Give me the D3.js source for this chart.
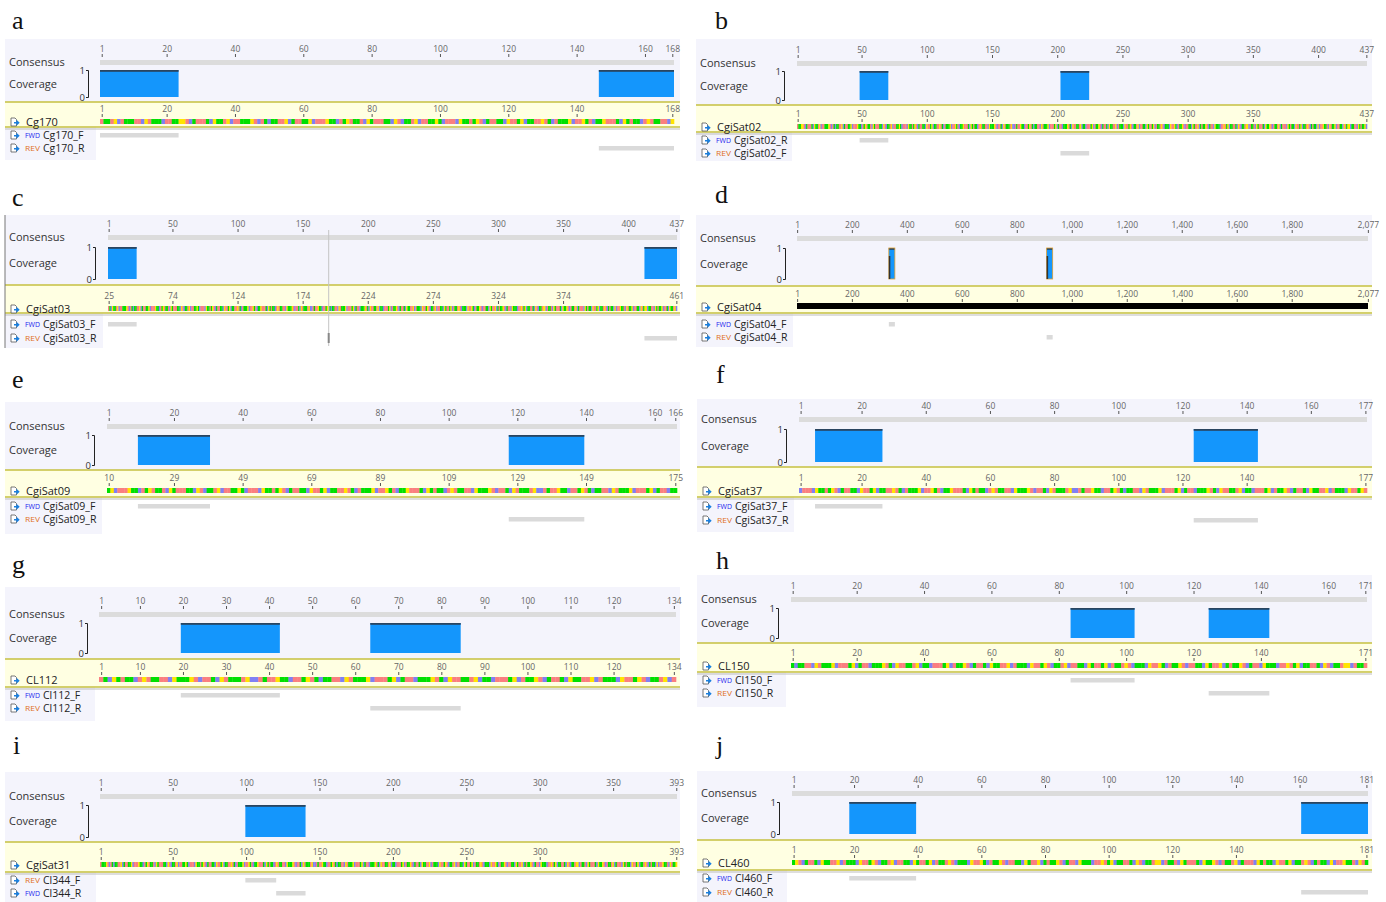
<html><head>
<script src="https://d3js.org/d3.v7.min.js"></script>
<style>
  body { margin: 0; background: #fff; }
  text { font-family: "Open Sans", "Noto Sans", sans-serif; }
</style>
</head>
<body>
<script>

  // ---- data ----
  const panelLetters = ["a","b","c","d","e","f","g","h","i","j"];
  const seqNames = ["Cg170","CgiSat02","CgiSat03","CgiSat04","CgiSat09","CgiSat37","CL112","CL150","CgiSat31","CL460"];
  const seqLengths = [168, 437, 437, 2077, 166, 177, 134, 171, 393, 181];
  const seqLabelOffset = [0, 0, 24, 0, 9, 0, 0, 0, 0, 0];

  const topTicks = [
    [1,20,40,60,80,100,120,140,160,168],
    [1,50,100,150,200,250,300,350,400,437],
    [1,50,100,150,200,250,300,350,400,437],
    [1,200,400,600,800,1000,1200,1400,1600,1800,2077],
    [1,20,40,60,80,100,120,140,160,166],
    [1,20,40,60,80,100,120,140,160,177],
    [1,10,20,30,40,50,60,70,80,90,100,110,120,134],
    [1,20,40,60,80,100,120,140,160,171],
    [1,50,100,150,200,250,300,350,393],
    [1,20,40,60,80,100,120,140,160,181]
  ];
  const seqTicks = [
    [1,20,40,60,80,100,120,140,168],
    [1,50,100,150,200,250,300,350,437],
    [1,50,100,150,200,250,300,350,437],
    [1,200,400,600,800,1000,1200,1400,1600,1800,2077],
    [1,20,40,60,80,100,120,140,166],
    [1,20,40,60,80,100,120,140,177],
    [1,10,20,30,40,50,60,70,80,90,100,110,120,134],
    [1,20,40,60,80,100,120,140,171],
    [1,50,100,150,200,250,300,393],
    [1,20,40,60,80,100,120,140,181]
  ];

  const readDirs = [
    ["FWD","REV"],["FWD","REV"],["FWD","REV"],["FWD","REV"],["FWD","REV"],
    ["FWD","REV"],["FWD","REV"],["FWD","REV"],["REV","FWD"],["FWD","REV"]
  ];
  const readNames = [
    ["Cg170_F","Cg170_R"],
    ["CgiSat02_R","CgiSat02_F"],
    ["CgiSat03_F","CgiSat03_R"],
    ["CgiSat04_F","CgiSat04_R"],
    ["CgiSat09_F","CgiSat09_R"],
    ["CgiSat37_F","CgiSat37_R"],
    ["Cl112_F","Cl112_R"],
    ["Cl150_F","Cl150_R"],
    ["Cl344_F","Cl344_R"],
    ["Cl460_F","Cl460_R"]
  ];
  // [first base, last base] of each primer read
  const readSpans = [
    [[1,23],[147,168]],
    [[49,70],[203,224]],
    [[1,22],[413,437]],
    [[335,356],[909,930]],
    [[10,30],[118,139]],
    [[6,26],[124,143]],
    [[20,42],[64,84]],
    [[84,102],[125,142]],
    [[100,120],[121,140]],
    [[19,39],[161,181]]
  ];
  const coverageDepth = 1;
  const cursorBase = [null, null, 170, null, null, null, null, null, null, null];

  // bases shown in the colour track (approximate, hand typed)
  const seqBases = [
    "ATTAGCATTTAACGATTTCAATTGGACTAAATCGTTAGCAATTTGACATCTTAAGCTAAT",
    "TGCAAAGTTCATGATTACGTAAATTCGACTTAGCAATTGTCAAACGTTATGACTAATTCG",
    "AATGCTTAAGATCATTTGCAAGTACTTGAAATCGTATTCAGATTAACGTTTGACAATCGA",
    "TTTAGCCATAAGTTCAATGATCTTAACGATTTGCAAATGCTAACTTTGATCGAATTAGCT",
    "TCAAATGCATTGACTAATCGTTAAGCATTTCGAATGACTTAGCAATTCGTAATGCATTAG",
    "ACTTTCGAAGTCATTGACAATTCGTAAGCTATTGACTAACGTTTCAAGATGCTTAATCGA",
    "CTTAGGCATTACGTAAATCGTTGACATTAGCTAAACGTATTCGAATGCTTAGACTATTCG",
    "CAAGTTACGATTGCAATTCGATGGCTTAACGTATTGCAATCGTTAGCATTGACATTTCGA"
  ].join("");
  const seqStart = [0, 20, 30, 0, 60, 100, 150, 200, 40, 250];

  // ---- layout (pixel positions of each panel) ----
  const layout = [
    {x:5,   r:680,  col:96,  x0:100, x1:674,  top:39,  cons:60,  covT:70,  covB:97,  yel:102, seq:119, yelB:127, r1:133, r2:146, bot:160, lx:12,  ly:29},
    {x:696, r:1372, col:792, x0:797, x1:1367, top:39,  cons:61,  covT:71,  covB:100, yel:105, seq:124, yelB:132, r1:138, r2:151, bot:161, lx:715, ly:29},
    {x:5,   r:680,  col:103, x0:108, x1:677,  top:215, cons:235, covT:247, covB:279, yel:285, seq:306, yelB:313, r1:322, r2:336, bot:348, lx:12,  ly:206},
    {x:696, r:1372, col:793, x0:797, x1:1368, top:215, cons:236, covT:248, covB:279, yel:286, seq:304, yelB:313, r1:322, r2:335, bot:347, lx:715, ly:203},
    {x:5,   r:680,  col:102, x0:107, x1:677,  top:402, cons:424, covT:435, covB:465, yel:470, seq:488, yelB:497, r1:504, r2:517, bot:534, lx:12,  ly:388},
    {x:697, r:1372, col:794, x0:799, x1:1367, top:399, cons:417, covT:429, covB:462, yel:467, seq:488, yelB:497, r1:504, r2:518, bot:532, lx:716, ly:383},
    {x:5,   r:680,  col:95,  x0:99,  x1:676,  top:587, cons:612, covT:623, covB:653, yel:659, seq:677, yelB:687, r1:693, r2:706, bot:721, lx:12,  ly:573},
    {x:697, r:1372, col:786, x0:791, x1:1367, top:575, cons:597, covT:608, covB:638, yel:643, seq:663, yelB:672, r1:678, r2:691, bot:707, lx:716, ly:569},
    {x:5,   r:680,  col:96,  x0:100, x1:677,  top:772, cons:794, covT:805, covB:837, yel:842, seq:862, yelB:872, r1:878, r2:891, bot:902, lx:13,  ly:754},
    {x:697, r:1372, col:787, x0:792, x1:1368, top:771, cons:791, covT:802, covB:834, yel:840, seq:860, yelB:870, r1:876, r2:890, bot:902, lx:716, ly:754}
  ];

  const baseColor = {A:"#fa7f7f", C:"#8080f4", G:"#ffe400", T:"#00e000"};
  const dirColor = {FWD:"#2424ee", REV:"#e0701a"};
  const panelBg = "#f4f4fc";
  const fmt = d3.format(",");

  let svg = d3.select("body").append("svg").attr("width", 1386).attr("height", 902);

  function docIcon(g, x, y) {
    g.append("path").attr("d", `M${x},${y-4}h4l1.5,1.5v6.5h-5.5z`)
      .attr("fill", "#fff").attr("stroke", "#555").attr("stroke-width", 0.8);
    g.append("path").attr("d", `M${x+3},${y}h2.5v-2.2l3.2,3l-3.2,3v-2.2h-2.5z`).attr("fill", "#1a80e0");
  }

  function styleAxis(a) {
    a.select(".domain").remove();
    a.selectAll("line").attr("stroke", "#555");
    a.selectAll("text").attr("fill", "#666").style("font-size", "8.5px");
  }

  // reads that touch each other make one coverage block
  function mergeSpans(spans) {
    let out = [];
    spans.slice().sort((u, v) => u[0] - v[0]).forEach(s => {
      let last = out[out.length - 1];
      if (last && s[0] <= last[1] + 1) last[1] = Math.max(last[1], s[1]);
      else out.push([s[0], s[1]]);
    });
    return out;
  }

  layout.forEach((L, p) => {
    let g = svg.append("g");
    let len = seqLengths[p];
    let xs = d3.scaleLinear().domain([0.5, len + 0.5]).range([L.x0, L.x1]);
    let ys = d3.scaleLinear().domain([0, coverageDepth]).range([L.covB, L.covT]);

    // letter
    svg.append("text").attr("x", L.lx).attr("y", L.ly).text(panelLetters[p])
      .style("font-family", "'Liberation Serif', 'Times New Roman', serif").style("font-size", "26px").attr("fill", "#111");

    // backgrounds
    g.append("rect").attr("x", L.x).attr("y", L.top).attr("width", L.r - L.x).attr("height", L.yel - L.top).attr("fill", panelBg);
    g.append("rect").attr("x", L.x).attr("y", L.yelB).attr("width", L.col - L.x).attr("height", L.bot - L.yelB).attr("fill", panelBg);
    g.append("rect").attr("x", L.x).attr("y", L.yel).attr("width", L.r - L.x).attr("height", L.yelB - L.yel).attr("fill", "#ffffe2");
    g.append("line").attr("x1", L.x).attr("x2", L.r).attr("y1", L.yel).attr("y2", L.yel).attr("stroke", "#c6c040").attr("stroke-width", 1.5);
    g.append("line").attr("x1", L.x).attr("x2", L.r).attr("y1", L.yelB).attr("y2", L.yelB).attr("stroke", "#c6c040").attr("stroke-width", 1.5);
    g.append("line").attr("x1", L.x).attr("x2", L.r).attr("y1", L.yelB + 2).attr("y2", L.yelB + 2).attr("stroke", "#bdbdbd").attr("stroke-width", 1);
    if (p === 2) {
      g.append("line").attr("x1", L.x).attr("x2", L.x).attr("y1", L.top).attr("y2", L.bot).attr("stroke", "#777");
    }

    // top ruler
    let topAxis = g.append("g").attr("transform", `translate(0,${L.cons - 3})`)
      .call(d3.axisTop(xs).tickValues(topTicks[p]).tickFormat(fmt).tickSize(3).tickPadding(2));
    styleAxis(topAxis);

    // consensus
    g.append("rect").attr("x", xs(0.5)).attr("y", L.cons).attr("width", xs(len + 0.5) - xs(0.5)).attr("height", 5).attr("fill", "#dcdcdc");
    g.append("text").attr("x", L.x + 4).attr("y", L.cons + 6).text("Consensus").attr("fill", "#333").style("font-size", "11px");
    g.append("text").attr("x", L.x + 4).attr("y", (L.covT + L.covB) / 2 + 4).text("Coverage").attr("fill", "#333").style("font-size", "11px");

    // coverage axis
    let covAxis = g.append("g").attr("transform", `translate(${L.col - 8},0)`)
      .call(d3.axisLeft(ys).tickValues([0, coverageDepth]).tickFormat(d3.format("d")).tickSize(2).tickSizeOuter(2).tickPadding(1));
    covAxis.select(".domain").attr("stroke", "#222");
    covAxis.selectAll("line").attr("stroke", "#222");
    covAxis.selectAll("text").attr("fill", "#333").style("font-size", "9.5px");

    // coverage blocks
    mergeSpans(readSpans[p]).forEach(s => {
      let x1 = xs(s[0] - 0.5), w = xs(s[1] + 0.5) - x1;
      g.append("rect").attr("x", x1).attr("y", ys(coverageDepth)).attr("width", w).attr("height", ys(0) - ys(coverageDepth))
        .attr("fill", "#1496fc");
      g.append("rect").attr("x", x1).attr("y", ys(coverageDepth)).attr("width", w).attr("height", 1.8).attr("fill", "#2a4560");
      if (len > 1000) {
        g.append("rect").attr("x", x1).attr("y", ys(coverageDepth)).attr("width", w).attr("height", ys(0) - ys(coverageDepth))
          .attr("fill", "none").attr("stroke", "#e0a030").attr("stroke-width", 0.8);
        g.append("rect").attr("x", x1).attr("y", ys(coverageDepth) + 8).attr("width", 1.5).attr("height", ys(0) - ys(coverageDepth) - 8).attr("fill", "#333");
      }
    });

    // sequence ruler
    let seqAxis = g.append("g").attr("transform", `translate(0,${L.seq - 2})`)
      .call(d3.axisTop(xs).tickValues(seqTicks[p]).tickFormat(d => fmt(d + seqLabelOffset[p])).tickSize(3).tickPadding(2));
    styleAxis(seqAxis);

    // sequence colour track
    if (len > 1000) {
      g.append("rect").attr("x", xs(0.5)).attr("y", L.seq - 1).attr("width", xs(len + 0.5) - xs(0.5)).attr("height", 6).attr("fill", "#000");
    } else {
      let bases = seqBases.slice(seqStart[p], seqStart[p] + len).split("");
      g.selectAll(null).data(bases).join("rect")
        .attr("x", (d, i) => xs(i + 0.5))
        .attr("y", L.seq)
        .attr("width", xs(1.5) - xs(0.5) + 0.3)
        .attr("height", 5)
        .attr("fill", d => baseColor[d]);
    }
    docIcon(g, L.x + 6, L.seq + 3);
    g.append("text").attr("x", L.x + 21).attr("y", L.seq + 7).text(seqNames[p]).attr("fill", "#222").style("font-size", "11px");

    // reads
    [L.r1, L.r2].forEach((ry, k) => {
      let s = readSpans[p][k];
      g.append("rect").attr("x", xs(s[0] - 0.5)).attr("y", ry).attr("width", xs(s[1] + 0.5) - xs(s[0] - 0.5)).attr("height", 4.5).attr("fill", "#dadada");
      docIcon(g, L.x + 6, ry + 2);
      g.append("text").attr("x", L.x + 20).attr("y", ry + 5).text(readDirs[p][k])
        .attr("fill", dirColor[readDirs[p][k]]).style("font-size", "7.5px")
        .attr("textLength", 15).attr("lengthAdjust", "spacingAndGlyphs");
      g.append("text").attr("x", L.x + 38).attr("y", ry + 6).text(readNames[p][k]).attr("fill", "#222").style("font-size", "10.5px");
    });

    // selection cursor
    if (cursorBase[p] !== null) {
      let cx = xs(cursorBase[p]);
      g.append("line").attr("x1", cx).attr("x2", cx).attr("y1", L.top + 15).attr("y2", L.bot - 2).attr("stroke", "#c4c4c4");
      g.append("rect").attr("x", cx - 1).attr("y", L.r2 - 3).attr("width", 2).attr("height", 10).attr("fill", "#888");
    }
  });

</script>
</body>
</html>
